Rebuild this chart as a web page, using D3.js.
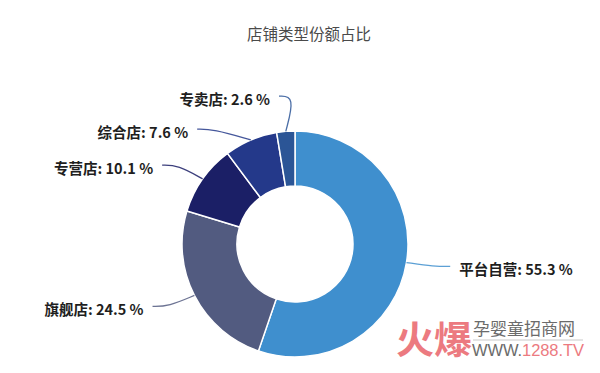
<!DOCTYPE html>
<html>
<head>
<meta charset="utf-8">
<script src="https://cdn.jsdelivr.net/npm/d3@7"></script>
<style>
  body { margin: 0; background: #fff; }
  svg { display: block; font-family: "Noto Sans CJK SC", "Noto Sans", sans-serif; }
</style>
</head>
<body>
<svg id="chart" width="600" height="373"></svg>
<script>
// Data
const categories = ['平台自营', '旗舰店', '专营店', '综合店', '专卖店'];
const shares = [55.3, 24.5, 10.1, 7.6, 2.6];
const sliceColors = ['#3f8fce', '#525b80', '#1b1f66', '#24398a', '#2b5596'];

const width = 600, height = 373;
const cx = 295, cy = 244;
const outerR = 113, innerR = 58;

const svg = d3.select('#chart');

// Title
svg.append('text')
  .attr('x', 309)
  .attr('y', 33)
  .attr('text-anchor', 'middle')
  .attr('dominant-baseline', 'central')
  .attr('font-size', 15.5)
  .attr('fill', '#4a4a4a')
  .text('店铺类型份额占比');

const data = categories.map((c, i) => ({ label: c, value: shares[i], color: sliceColors[i] }));

const pie = d3.pie().value(d => d.value).sort(null);
const arcs = pie(data);

const arc = d3.arc().innerRadius(innerR).outerRadius(outerR);

const g = svg.append('g').attr('transform', `translate(${cx},${cy})`);

g.selectAll('path.slice')
  .data(arcs)
  .join('path')
  .attr('class', 'slice')
  .attr('d', arc)
  .attr('fill', d => d.data.color)
  .attr('stroke', '#fff')
  .attr('stroke-width', 1.5);

// Label layout: ECharts-like, labels pushed apart on each side
const len1 = 24, len2 = 16, minGap = 33, layoutR = 141;
const labels = arcs.map(d => {
  const a = (d.startAngle + d.endAngle) / 2;
  const p1 = [outerR * Math.sin(a), -outerR * Math.cos(a)];
  const r2 = outerR + len1;
  const y = -r2 * Math.cos(a);
  return { d, a, p1, y, right: Math.sin(a) >= 0 };
});

// resolve overlaps per side
[true, false].forEach(side => {
  const list = labels.filter(l => l.right === side).sort((a, b) => a.y - b.y);
  for (let iter = 0; iter < 20; iter++) {
    let moved = false;
    for (let i = 1; i < list.length; i++) {
      const gap = list[i].y - list[i - 1].y;
      if (gap < minGap) {
        const push = (minGap - gap) / 2;
        list[i - 1].y -= push;
        list[i].y += push;
        moved = true;
      }
    }
    if (!moved) break;
  }
});

const line = d3.line().curve(d3.curveBasis);

labels.forEach(l => {
  const dir = l.right ? 1 : -1;
  const dy = l.y;
  const dx = Math.abs(dy) < layoutR ? Math.sqrt(layoutR * layoutR - dy * dy) : 0;
  const p2 = [dir * dx, l.y];
  const p3 = [dir * (dx + len2), l.y];
  g.append('path')
    .attr('d', line([l.p1, p2, p3]))
    .attr('fill', 'none')
    .attr('stroke', l.d.data.color)
    .attr('stroke-opacity', 0.85)
    .attr('stroke-width', 1.3);
  g.append('text')
    .attr('x', p3[0] + dir * 9)
    .attr('y', l.y + 2)
    .attr('text-anchor', l.right ? 'start' : 'end')
    .attr('dominant-baseline', 'central')
    .attr('font-size', 14.5)
    .attr('font-weight', 'bold')
    .attr('fill', '#1e1e1e')
    .text(`${l.d.data.label}: ${l.d.data.value.toFixed(1)} %`);
});

// Watermark
const wm = svg.append('g');
wm.append('text')
  .attr('x', 396).attr('y', 353)
  .attr('font-size', 38)
  .attr('font-weight', 'bold')
  .attr('fill', '#ec7a80')
  .text('火爆');
wm.append('text')
  .attr('x', 473).attr('y', 335)
  .attr('font-size', 17)
  .attr('fill', '#6b6b6b')
  .text('孕婴童招商网');
wm.append('line')
  .attr('x1', 473).attr('x2', 583)
  .attr('y1', 340).attr('y2', 340)
  .attr('stroke', '#bbb').attr('stroke-width', 0.8);
const url = wm.append('text')
  .attr('x', 472).attr('y', 356)
  .attr('font-family', 'Liberation Sans, Arial, sans-serif')
  .attr('font-size', 16.5)
  .attr('textLength', 112);
url.append('tspan').attr('fill', '#6b6b6b').text('WWW.');
url.append('tspan').attr('fill', '#ec7a80').text('1288.TV');
</script>
</body>
</html>
